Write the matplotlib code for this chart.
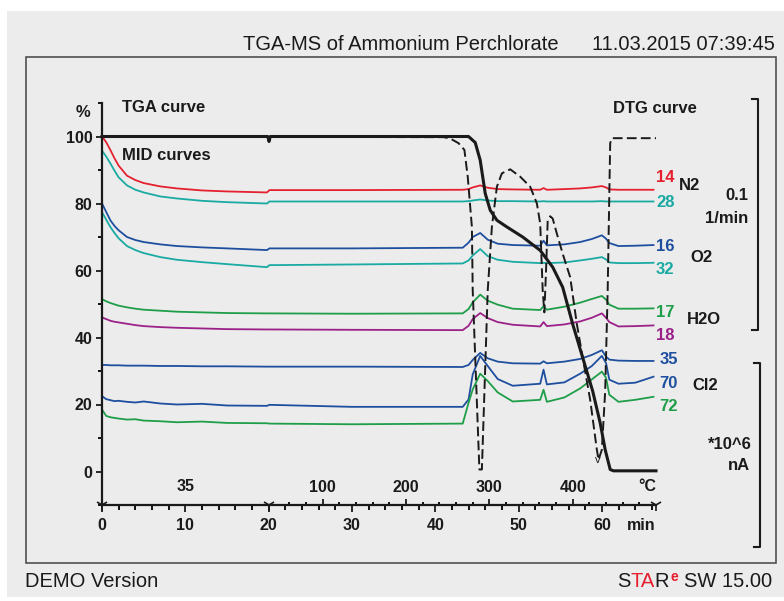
import matplotlib.pyplot as plt
from matplotlib.patches import Rectangle
from matplotlib.lines import Line2D
from matplotlib.font_manager import FontProperties

plt.rcParams.update({
    "font.family": ["Liberation Sans", "DejaVu Sans"],
    "font.size": 11,
})

W, H = 784, 601
INK = "#1a1a1a"

# TGA curve (%), DTG curve (scaled), time in min
tga_t = [0, 19.9, 20.05, 20.2, 44.0, 44.8, 45.4, 46.0, 46.6, 47.4, 48.6, 50.5, 52.6,
         54.1, 55.3, 56.5, 57.7, 58.9, 59.8, 60.4, 61.0, 61.4, 66.5]
tga_y = [100, 100, 98.5, 100, 100, 98.2, 92.9, 83, 78, 75, 73, 70, 66,
         61, 55, 44, 34, 24, 14.5, 6.5, 0.6, 0.2, 0.2]

dtg_t = [0, 41.0, 41.8, 42.8, 43.5, 43.9, 44.4, 44.5, 45.3, 45.6, 46.3, 46.8, 47.4,
         48.0, 49.0, 50.2, 51.4, 52.2, 52.6, 52.9, 53.1, 53.3, 53.5, 53.8, 54.1, 54.6,
         55.3, 56.2, 57.0, 57.7, 58.6, 59.4, 59.6, 60.0, 60.4, 60.7, 61.0, 61.2, 66.5]
dtg_y = [100, 99.8, 99.4, 98, 96, 88, 73, 54, 0.6, 0.6, 54, 73, 85,
         89, 90.2, 88, 85, 80, 74, 54, 47.5, 60, 75, 76.2, 75.5, 71,
         65, 58, 44, 34, 21.4, 6.5, 3.5, 6.5, 24, 54, 98, 99.5, 99.5]

# MID curves (ion currents), common time grid
mid_t = [0, 0.5, 1, 1.5, 2, 3, 4, 5, 7, 9, 12, 15, 19.8, 20.1, 30, 43.3, 44.0, 44.5,
         45.4, 46.3, 47.5, 49.3, 52.6, 53.0, 53.4, 55.5, 57.4, 58.8, 60.0, 60.5, 60.9,
         62.0, 64.0, 66.2]
mz14 = [100, 98.3, 96, 93.5, 91.3, 88.3, 87, 86.1, 85.1, 84.5, 83.9, 83.6, 83.3, 84.0,
        84.0, 84.1, 84.3, 84.8, 85.4, 84.7, 84.3, 84.2, 84.1, 84.6, 84.1, 84.3, 84.5,
        84.8, 85.2, 84.8, 84.2, 84.1, 84.1, 84.1]
mz28 = [95.8, 94, 92, 89.8, 87.8, 85.4, 84.1, 83.3, 82.1, 81.5, 80.8, 80.4, 80.0, 80.6,
        80.6, 80.6, 80.7, 80.9, 81.2, 80.9, 80.7, 80.7, 80.6, 80.7, 80.6, 80.6, 80.6,
        80.6, 80.7, 80.6, 80.6, 80.6, 80.6, 80.6]
mz16 = [80, 77.5, 75, 73.3, 72, 70, 69.1, 68.5, 67.8, 67.3, 66.9, 66.6, 66.1, 66.6,
        66.6, 66.8, 68.3, 70.0, 71.2, 69.2, 68.0, 67.6, 67.4, 68.9, 67.5, 67.8, 68.5,
        69.4, 70.5, 69.5, 68.2, 67.3, 67.4, 67.6]
mz32 = [77.4, 75.2, 73, 71.2, 69.6, 67.3, 66.1, 65.2, 64, 63.2, 62.5, 61.9, 61.0, 61.6,
        61.8, 62.1, 63.0, 64.5, 66.4, 64.3, 63.2, 62.6, 62.2, 62.3, 62.2, 62.4, 63.0,
        63.5, 64.0, 63.3, 62.4, 62.2, 62.2, 62.3]
mz17 = [51.5, 50.8, 50.3, 49.9, 49.5, 49, 48.6, 48.3, 48, 47.7, 47.5, 47.3, 47.2, 47.2,
        47.1, 47.2, 48.5, 50.5, 52.8, 51.0, 49.8, 48.6, 48.2, 49.3, 48.3, 49.2, 50.4,
        51.5, 52.4, 51.3, 49.8, 48.6, 48.6, 48.7]
mz18 = [46, 45.5, 45, 44.7, 44.5, 44.1, 43.7, 43.4, 43.1, 42.9, 42.7, 42.5, 42.4, 42.4,
        42.3, 42.2, 43.5, 45.5, 47.3, 45.8, 44.6, 43.8, 43.3, 44.6, 43.4, 43.9, 44.8,
        45.9, 47.2, 45.9, 44.6, 43.3, 43.4, 43.6]
mz35 = [31.8, 31.8, 31.7, 31.7, 31.7, 31.6, 31.6, 31.6, 31.5, 31.5, 31.4, 31.4, 31.3,
        31.3, 31.3, 31.2, 31.8, 33.3, 35.4, 33.8, 32.8, 32.3, 32.2, 32.9, 32.3, 32.8,
        33.6, 34.8, 36.2, 34.3, 33.4, 33.1, 33.0, 33.0]
mz70 = [22.5, 21.6, 21.3, 21.0, 21.1, 20.8, 20.6, 20.9, 20.3, 20.0, 20.2, 19.7, 19.6,
        19.9, 19.3, 19.3, 21.5, 29.0, 34.5, 31.5, 27.6, 25.6, 26.2, 30.4, 26.0, 26.6,
        29.2, 31.5, 34.5, 32.4, 27.4, 26.2, 26.5, 28.3]
mz72 = [18.5, 16.6, 16.2, 16.0, 15.8, 15.5, 15.6, 15.2, 15.0, 14.7, 14.9, 14.5, 14.4,
        14.3, 14.1, 14.3, 20.5, 24.5, 29.2, 27.0, 23.6, 20.9, 21.4, 24.4, 20.8, 22.1,
        24.8, 27.5, 29.8, 28.0, 22.9, 20.8, 21.4, 22.3]

# curve labels: (text, curve, color, label baseline y)
RED, TEAL, BLUE, GREEN, PURPLE = "#e5202f", "#19aaa2", "#1e4f9f", "#1f9e49", "#9b2189"
mid_series = [
    ("14", mz14, RED, 86.4),
    ("28", mz28, TEAL, 79.0),
    ("16", mz16, BLUE, 65.8),
    ("32", mz32, TEAL, 58.9),
    ("17", mz17, GREEN, 46.1),
    ("18", mz18, PURPLE, 39.3),
    ("35", mz35, BLUE, 32.1),
    ("70", mz70, BLUE, 24.9),
    ("72", mz72, GREEN, 18.1),
]
gas_names = ["N2", "O2", "H2O", "Cl2"]
gas_y = [84.0, 62.5, 44.0, 24.3]
gas_x = [69.3, 70.6, 70.2, 70.9]

# temperature program: 35 °C isothermal for 20 min, then 10 K/min
iso_end, t_start, rate = 20, 35, 10
temp_major = [100, 200, 300, 400]
temp_minor = list(range(60, 481, 20))
segment_marks = [0, 20, 66.5]

fig = plt.figure(figsize=(W / 100, H / 100), dpi=100)
fig.patch.set_facecolor("white")
fig.add_artist(Rectangle((7 / W, 1 - 597 / H), 777 / W, 586 / H, transform=fig.transFigure,
                         facecolor="#ececec", edgecolor="none", zorder=-10))
fig.add_artist(Rectangle((26 / W, 1 - 563 / H), 750 / W, 506 / H, transform=fig.transFigure,
                         fill=False, edgecolor="#505050", lw=1.2, zorder=-9))


def ftext(x, y, s, **kw):
    return fig.text(x / W, 1 - y / H, s, va="baseline", color=kw.pop("color", INK), **kw)


ftext(243, 50, "TGA-MS of Ammonium Perchlorate", fontsize=14.5)
ftext(775, 50, "11.03.2015 07:39:45", fontsize=14.5, ha="right")
ftext(25, 587, "DEMO Version", fontsize=14.5)

# STARe SW 15.00 footer, letters placed where they sit in the whole word
rend = fig.canvas.get_renderer()
fp = FontProperties(family=["Liberation Sans", "DejaVu Sans"], size=14.5)


def wpx(s):
    return rend.get_text_width_height_descent(s, fp, ismath=False)[0]


x0 = 617
ftext(x0, 587, "S", fontproperties=fp)
ftext(x0 + wpx("STA"), 587, "TA", fontproperties=fp, color=RED, ha="right")
ftext(x0 + wpx("STAR"), 587, "R", fontproperties=fp, ha="right")
ftext(x0 + wpx("STAR") + 1.5, 581, "e", fontsize=10, color=RED, fontweight="bold")
ftext(772, 587, "SW 15.00", fontproperties=fp, ha="right")

# brackets on the right
for x, y0, y1 in [(758, 99, 330), (760, 363, 547)]:
    fig.add_artist(Line2D([(x - 6) / W, x / W, x / W, (x - 6) / W],
                          [1 - y0 / H, 1 - y0 / H, 1 - y1 / H, 1 - y1 / H],
                          transform=fig.transFigure, color=INK, lw=1.5))

ax = fig.add_axes([102 / W, 1 - 505 / H, 554 / W, 402 / H])
ax.set_xlim(0, 66.5)
ax.set_ylim(-10, 110)
ax.patch.set_visible(False)
for side in ["top", "right"]:
    ax.spines[side].set_visible(False)
for side in ["left", "bottom"]:
    ax.spines[side].set_linewidth(1.6)
    ax.spines[side].set_color(INK)

ax.set_yticks(range(0, 101, 20))
ax.set_yticks(range(-10, 111, 20), minor=True)
ax.set_xticks(range(0, 61, 10))
ax.set_xticks([t for t in range(0, 67, 2) if t % 10], minor=True)
ax.tick_params(axis="y", which="major", length=4.5, width=1.3, pad=2.5,
               labelsize=11.5, colors=INK)
ax.tick_params(axis="y", which="minor", length=3, width=1.3)
ax.tick_params(axis="x", which="major", length=5, width=1.3, pad=4.3,
               labelsize=11.5, colors=INK)
ax.tick_params(axis="x", which="minor", length=3.5, width=1.3)
for lab in ax.get_xticklabels() + ax.get_yticklabels():
    lab.set_fontweight("bold")

sec = ax.secondary_xaxis(0.0)
sec.set_alignment("top")
for sp in sec.spines.values():
    sp.set_visible(False)
sec.set_xticks([iso_end + (T - t_start) / rate for T in temp_major],
               labels=[str(T) for T in temp_major])
sec.set_xticks([iso_end + (T - t_start) / rate for T in temp_minor if T % 100], minor=True)
sec.tick_params(which="major", direction="out", length=4.5, width=1.3, pad=3,
                labelsize=11.5, colors=INK)
sec.tick_params(which="minor", direction="out", length=2.5, width=1.3)
for lab in sec.get_xticklabels():
    lab.set_fontweight("bold")

ax.plot(segment_marks, [-10] * len(segment_marks), ls="none", marker="1", ms=9,
        mew=1.2, color=INK, clip_on=False)

bold = dict(fontsize=11.5, fontweight="bold", color=INK, va="baseline")
ax.text(iso_end / 2, -5.7, str(t_start), ha="center", **bold)
ax.text(66.5, -5.7, "°C", ha="right", **bold)
ax.text(66.5, -17.4, "min", ha="right", **bold)

# curves
for name, ys, color, ly in mid_series:
    ax.plot(mid_t, ys, color=color, lw=1.3, clip_on=False)
    lx = 66.9 if name in ("35", "70", "72") else 66.5
    ax.text(lx, ly, name, color=color, fontsize=12, fontweight="bold", va="baseline")
ax.plot(dtg_t, dtg_y, color=INK, lw=1.4, ls=(0, (5, 2.2)), clip_on=False)
ax.plot(tga_t, tga_y, color=INK, lw=2.2, clip_on=False)
ax.text(59.5, 2.5, "v", fontsize=8, color=INK, ha="center")

lab = dict(fontsize=12, fontweight="bold", color=INK, va="baseline")
for name, x, y in zip(gas_names, gas_x, gas_y):
    ax.text(x, y, name, **lab)
ax.text(-1.4, 105.7, "%", ha="right", **lab)
ax.text(2.35, 107.3, "TGA curve", **lab)
ax.text(2.4, 93.0, "MID curves", **lab)
ax.text(61.3, 107.0, "DTG curve", **lab)
ax.text(77.55, 81.0, "0.1", ha="right", **lab)
ax.text(77.55, 74.2, "1/min", ha="right", **lab)
ax.text(78.0, 6.7, "*10^6", ha="right", **lab)
ax.text(77.8, 0.45, "nA", ha="right", **lab)

fig.savefig("out.png", dpi=100)
